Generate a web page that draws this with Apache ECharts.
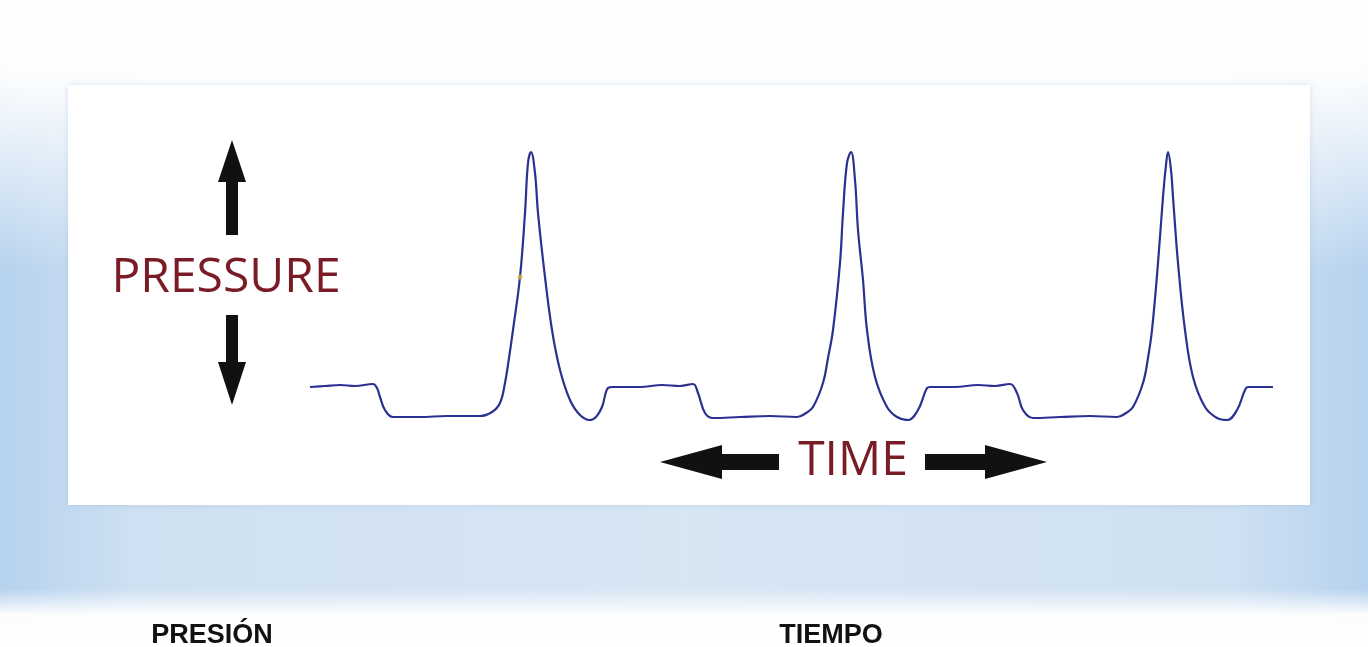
<!DOCTYPE html>
<html>
<head>
<meta charset="utf-8">
<script src="https://cdn.jsdelivr.net/npm/echarts@6/dist/echarts.min.js"></script>
<style>
  html, body { margin: 0; padding: 0; }
  #presionChart {
    width: 1368px;
    height: 647px;
    background:
      linear-gradient(to bottom, #ffffff 0%, rgba(255,255,255,0.95) 12%, rgba(255,255,255,0) 42%, rgba(255,255,255,0) 91%, rgba(255,255,255,0.95) 95%, #ffffff 100%),
      linear-gradient(to right, #b6d2ee 0%, #cfe1f2 10%, #d8e6f4 50%, #cfe1f2 90%, #b6d2ee 100%);
  }
</style>
</head>
<body>
<div id="presionChart"></div>
<script>
// tiempo (unidades arbitrarias) y presión
const tiempo = [
  0, 15, 30, 45, 63, 67, 70, 75, 83, 110, 137, 170, 182, 190, 195, 199, 203, 210, 215, 218,
  221, 225, 228, 235, 242, 250, 260, 270, 280, 286, 292, 298, 303, 330, 352, 370, 383, 388, 395, 403,
  430, 460, 487, 496, 503, 513, 518, 523, 530, 533, 537, 541, 545, 548, 553, 557, 565, 577, 587, 598,
  608, 617, 620, 645, 668, 685, 700, 707, 713, 723,
  750, 780, 807, 816, 823, 833, 838, 842, 848, 853, 856, 858, 861, 863, 868, 875, 883, 895, 907, 917,
  927, 935, 938, 963
];
const presion = [
  33, 34, 35, 34, 36, 32, 23, 10, 3, 3, 4, 4, 8, 17, 37, 62, 90, 143, 207, 257,
  268, 247, 207, 143, 90, 50, 20, 5, 0, 3, 13, 32, 33, 33, 35, 34, 36, 27, 7, 2,
  3, 4, 3, 7, 13, 37, 62, 90, 157, 207, 257, 268, 240, 190, 140, 90, 43, 13, 3, 0,
  10, 32, 33, 33, 35, 34, 36, 27, 10, 2,
  3, 4, 3, 7, 13, 37, 62, 90, 157, 223, 255, 268, 250, 223, 157, 90, 43, 13, 2, 0,
  10, 30, 33, 33
];
const puntoMarcado = [[210, 143]];

const tituloY = 'PRESSURE';
const tituloX = 'TIME';
const etiquetaY = 'PRESIÓN';
const etiquetaX = 'TIEMPO';

let myChart = echarts.init(document.getElementById('presionChart'));

let datos = tiempo.map((t, i) => [t, presion[i]]);

let flechaColor = '#111111';
let textoColor = '#7a1c26';

let option = {
  animation: false,
  grid: { left: 310, right: 95, top: 150, bottom: 227 },
  xAxis: {
    type: 'value', min: 0, max: 963,
    show: false
  },
  yAxis: {
    type: 'value', min: 0, max: 270,
    show: false
  },
  graphic: [
    // panel blanco
    {
      type: 'rect', z: -10,
      shape: { x: 68, y: 85, width: 1242, height: 420 },
      style: { fill: '#ffffff', shadowBlur: 6, shadowColor: 'rgba(120,150,190,0.25)' }
    },
    // flecha arriba
    {
      type: 'polygon',
      shape: { points: [[232, 140], [246, 182], [238, 182], [238, 235], [226, 235], [226, 182], [218, 182]] },
      style: { fill: flechaColor }
    },
    // flecha abajo
    {
      type: 'polygon',
      shape: { points: [[226, 315], [238, 315], [238, 362], [246, 362], [232, 405], [218, 362], [226, 362]] },
      style: { fill: flechaColor }
    },
    {
      type: 'text',
      style: {
        text: tituloY, x: 226, y: 278, align: 'center', verticalAlign: 'middle',
        font: '48px "Open Sans", sans-serif', fill: textoColor
      }
    },
    // flecha izquierda
    {
      type: 'polygon',
      shape: { points: [[660, 462], [722, 445], [722, 454], [779, 454], [779, 470], [722, 470], [722, 479]] },
      style: { fill: flechaColor }
    },
    // flecha derecha
    {
      type: 'polygon',
      shape: { points: [[925, 454], [985, 454], [985, 445], [1047, 462], [985, 479], [985, 470], [925, 470]] },
      style: { fill: flechaColor }
    },
    {
      type: 'text',
      style: {
        text: tituloX, x: 853, y: 461, align: 'center', verticalAlign: 'middle',
        font: '48px "Open Sans", sans-serif', fill: textoColor
      }
    },
    {
      type: 'text',
      style: {
        text: etiquetaY, x: 212, y: 636, align: 'center', verticalAlign: 'middle',
        font: 'bold 27px "Liberation Sans", Arial, sans-serif', fill: '#111111'
      }
    },
    {
      type: 'text',
      style: {
        text: etiquetaX, x: 831, y: 636, align: 'center', verticalAlign: 'middle',
        font: 'bold 27px "Liberation Sans", Arial, sans-serif', fill: '#111111'
      }
    }
  ],
  series: [
    {
      name: 'Presión',
      type: 'line',
      data: datos,
      smooth: 0.4,
      showSymbol: false,
      lineStyle: { color: '#2b3190', width: 2.2 }
    },
    {
      type: 'scatter',
      data: puntoMarcado,
      symbolSize: 5,
      itemStyle: { color: '#d8b23a' },
      z: 5
    }
  ]
};
myChart.setOption(option);
</script>
</body>
</html>
